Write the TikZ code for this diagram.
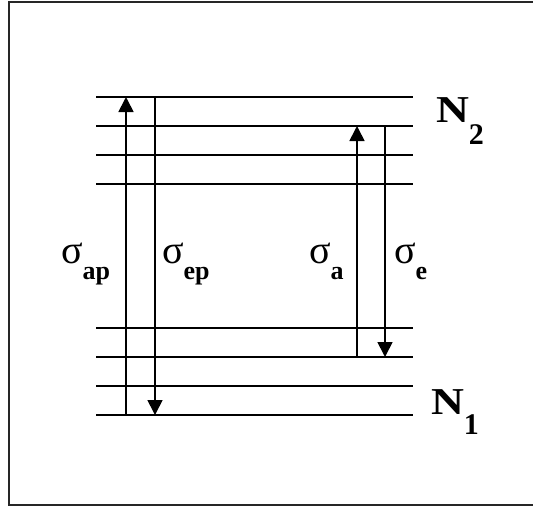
\documentclass[tikz,border=0pt]{standalone}
\usepackage{fontspec}
\setmainfont{Liberation Serif}
\usetikzlibrary{arrows.meta,positioning}

\begin{document}
\begin{tikzpicture}[
  x=1pt, y=-1pt,
  every node/.style={inner sep=0pt, outer sep=0pt},
  level/.style={line width=1.7pt},
  trans/.style={-{Triangle[width=15pt,length=15pt]}, line width=1.7pt},
  frame/.style={draw=black!85, line width=1.6pt},
  xsec/.style={font=\fontsize{40}{42}\selectfont, anchor=base west},
  popn/.style={font=\fontsize{38}{40}\selectfont\bfseries, anchor=base west}
]
\useasboundingbox (0,0) rectangle (533,507);

% FRAME
\draw[frame] (9,2) rectangle (560,505);

% UPPER MANIFOLD N2
\draw[level] (96,97) -- (413,97);
\draw[level] (96,126) -- (413,126);
\draw[level] (96,155) -- (413,155);
\draw[level] (96,184) -- (413,184);

% LOWER MANIFOLD N1
\draw[level] (96,328) -- (413,328);
\draw[level] (96,357) -- (413,357);
\draw[level] (96,386) -- (413,386);
\draw[level] (96,415) -- (413,415);

% TRANSITIONS
\coordinate (ap_lo) at (126,415);
\coordinate (ap_hi) at (126,97);
\coordinate (ep_hi) at (155,97);
\coordinate (ep_lo) at (155,415);
\coordinate (a_lo) at (357,357);
\coordinate (a_hi) at (357,126);
\coordinate (e_hi) at (385,126);
\coordinate (e_lo) at (385,357);

\draw[trans] (ap_lo) -- (ap_hi);
\draw[trans] (ep_hi) -- (ep_lo);
\draw[trans] (a_lo) -- (a_hi);
\draw[trans] (e_hi) -- (e_lo);

% LABELS
\node[xsec] (sig_ap) at (61,263) {σ\raisebox{-0.42em}{\fontsize{26}{26}\selectfont\bfseries ap}};
\node[xsec] (sig_ep) at (162,263) {σ\raisebox{-0.42em}{\fontsize{26}{26}\selectfont\bfseries ep}};
\node[xsec] (sig_a) at (309,263) {σ\raisebox{-0.42em}{\fontsize{26}{26}\selectfont\bfseries a}};
\node[xsec] (sig_e) at (394,263) {σ\raisebox{-0.42em}{\fontsize{26}{26}\selectfont\bfseries e}};

\node[popn] (pop_two) at (436,122) {\scalebox{1.2}[1]{N}\raisebox{-0.58em}{\fontsize{30}{30}\selectfont 2}};
\node[popn] (pop_one) at (431,414) {\scalebox{1.2}[1]{N}\raisebox{-0.55em}{\fontsize{30}{30}\selectfont 1}};

\end{tikzpicture}
\end{document}
